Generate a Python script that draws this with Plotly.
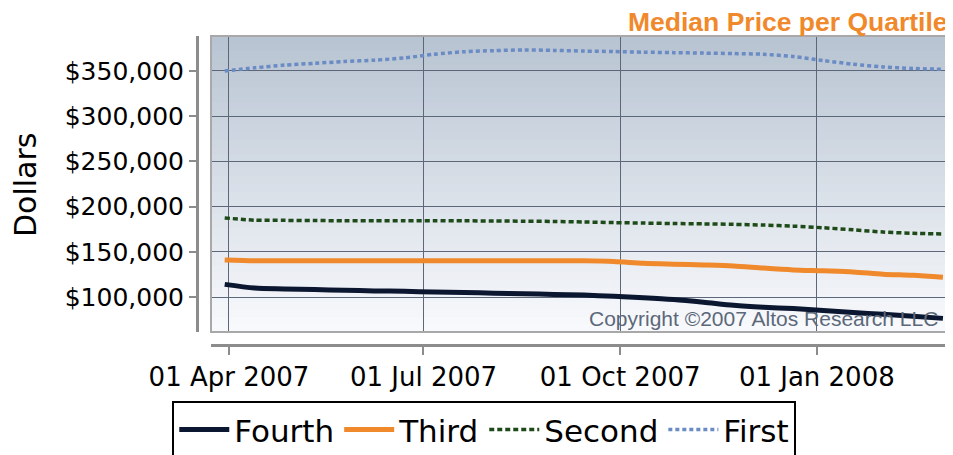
import plotly.graph_objects as go

# sample dates (every two weeks)
dates = [
    "2007-03-30", "2007-04-13", "2007-04-27", "2007-05-11", "2007-05-25",
    "2007-06-08", "2007-06-22", "2007-07-06", "2007-07-20", "2007-08-03",
    "2007-08-17", "2007-08-31", "2007-09-14", "2007-09-28", "2007-10-12",
    "2007-10-26", "2007-11-09", "2007-11-23", "2007-12-07", "2007-12-21",
    "2008-01-04", "2008-01-18", "2008-02-01", "2008-02-15", "2008-02-29",
]

fourth = [114000, 110000, 109000, 108200, 107500, 106800, 106300, 105600, 105000, 104300,
          103600, 102900, 102200, 100800, 99200, 97200, 94300, 91000, 88800, 87200,
          85000, 82800, 80900, 78700, 76400]
third = [141000, 140200, 140100, 140100, 140100, 140100, 140100, 140100, 140100, 140100,
         140100, 140100, 140100, 139400, 137300, 136300, 135500, 134400, 132000, 130000,
         129000, 127800, 125200, 124000, 121800]
second = [187500, 185000, 184800, 184600, 184400, 184400, 184400, 184400, 184300, 184100,
          183900, 183600, 183000, 182300, 181800, 181300, 180900, 180400, 179600, 178400,
          176600, 174300, 171900, 170500, 169700]
first = [350000, 353500, 356500, 358500, 360500, 362000, 364500, 368500, 371300, 372500,
         373300, 372800, 372000, 371500, 370800, 370300, 369800, 369300, 368500, 366000,
         361500, 357500, 354500, 352800, 351800]

x_ticks = ["2007-04-01", "2007-07-01", "2007-10-01", "2008-01-01"]
x_ticktext = ["01 Apr 2007", "01 Jul 2007", "01 Oct 2007", "01 Jan 2008"]
y_ticks = [100000, 150000, 200000, 250000, 300000, 350000]
y_ticktext = ["$100,000", "$150,000", "$200,000", "$250,000", "$300,000", "$350,000"]

fig = go.Figure()

series = [
    ("Fourth", fourth, "#0b1630", 5, "solid"),
    ("Third", third, "#f0892b", 5, "solid"),
    ("Second", second, "#1d4a18", 3.5, "5px,3px"),
    ("First", first, "#6a8bc4", 3.5, "4px,3px"),
]
for name, vals, color, w, dash in series:
    fig.add_trace(go.Scatter(
        x=dates, y=vals, name=name, mode="lines",
        line=dict(color=color, width=w, dash=dash, shape="spline", smoothing=0.8),
    ))

# gradient background for the plot area (overlapping strips to avoid seams)
top = (184, 196, 210)
bot = (248, 249, 252)
n = 40
shapes = []
for i in range(n):
    t = i / (n - 1)
    c = tuple(round(top[k] + (bot[k] - top[k]) * t) for k in range(3))
    shapes.append(dict(
        type="rect", xref="x domain", yref="y domain",
        x0=0, x1=1, y0=max(0, 1 - (i + 1.6) / n), y1=1 - i / n,
        fillcolor="rgb(%d,%d,%d)" % c, line=dict(width=0), layer="below",
    ))
shapes.append(dict(
    type="rect", xref="x domain", yref="y domain", x0=0, x1=1, y0=0, y1=1,
    line=dict(color="#a8a8a8", width=2), layer="above",
))

fig.update_layout(
    width=945, height=447,
    margin=dict(l=189, r=0, t=28, b=110),
    paper_bgcolor="white",
    plot_bgcolor="rgba(0,0,0,0)",
    font=dict(family="DejaVu Sans", color="black"),
    shapes=shapes,
    showlegend=True,
    legend=dict(
        orientation="h", xref="container", yref="container",
        x=0.504, xanchor="center", y=0.121, yanchor="top",
        font=dict(size=31, family="DejaVu Sans"),
        bordercolor="black", borderwidth=2, bgcolor="white",
        itemwidth=50, traceorder="normal",
    ),
    xaxis=dict(
        type="date", domain=[0.0185, 1], anchor="free", position=0,
        range=["2007-03-23 14:00", "2008-03-04 17:00"],
        tickvals=x_ticks, ticktext=x_ticktext,
        showgrid=True, gridcolor="#5c6879", gridwidth=1,
        showline=True, linecolor="#8c8c8c", linewidth=3,
        ticks="outside", ticklen=8, tickcolor="#8c8c8c", tickwidth=2,
        tickfont=dict(size=26), zeroline=False, automargin=False,
    ),
    yaxis=dict(
        domain=[0.042, 1], anchor="free", position=0,
        range=[61300, 388700],
        tickvals=y_ticks, ticktext=y_ticktext,
        showgrid=True, gridcolor="#5c6879", gridwidth=1,
        showline=True, linecolor="#8c8c8c", linewidth=3,
        ticks="outside", ticklen=7, tickcolor="#8c8c8c", tickwidth=2,
        tickfont=dict(size=25), zeroline=False, automargin=False,
    ),
    annotations=[
        dict(text="Dollars", xref="paper", yref="paper", x=-0.227, y=0.519,
             xanchor="center", yanchor="middle", textangle=-90, showarrow=False,
             font=dict(family="DejaVu Sans", size=30, color="black")),
        dict(text="<b>Median Price per Quartile</b>", xref="paper", yref="paper",
             x=1, xanchor="right", y=1, yanchor="bottom", xshift=-3, yshift=-3,
             showarrow=False,
             font=dict(family="Liberation Sans", size=26.5, color="#f0892b")),
        dict(text="Copyright \u00a92007 Altos Research LLC", xref="paper", yref="y domain",
             x=0.983, xanchor="right", y=0, yanchor="bottom", showarrow=False,
             font=dict(family="Liberation Sans", size=21, color="#5c6879")),
    ],
)

fig.write_html("out.html")
